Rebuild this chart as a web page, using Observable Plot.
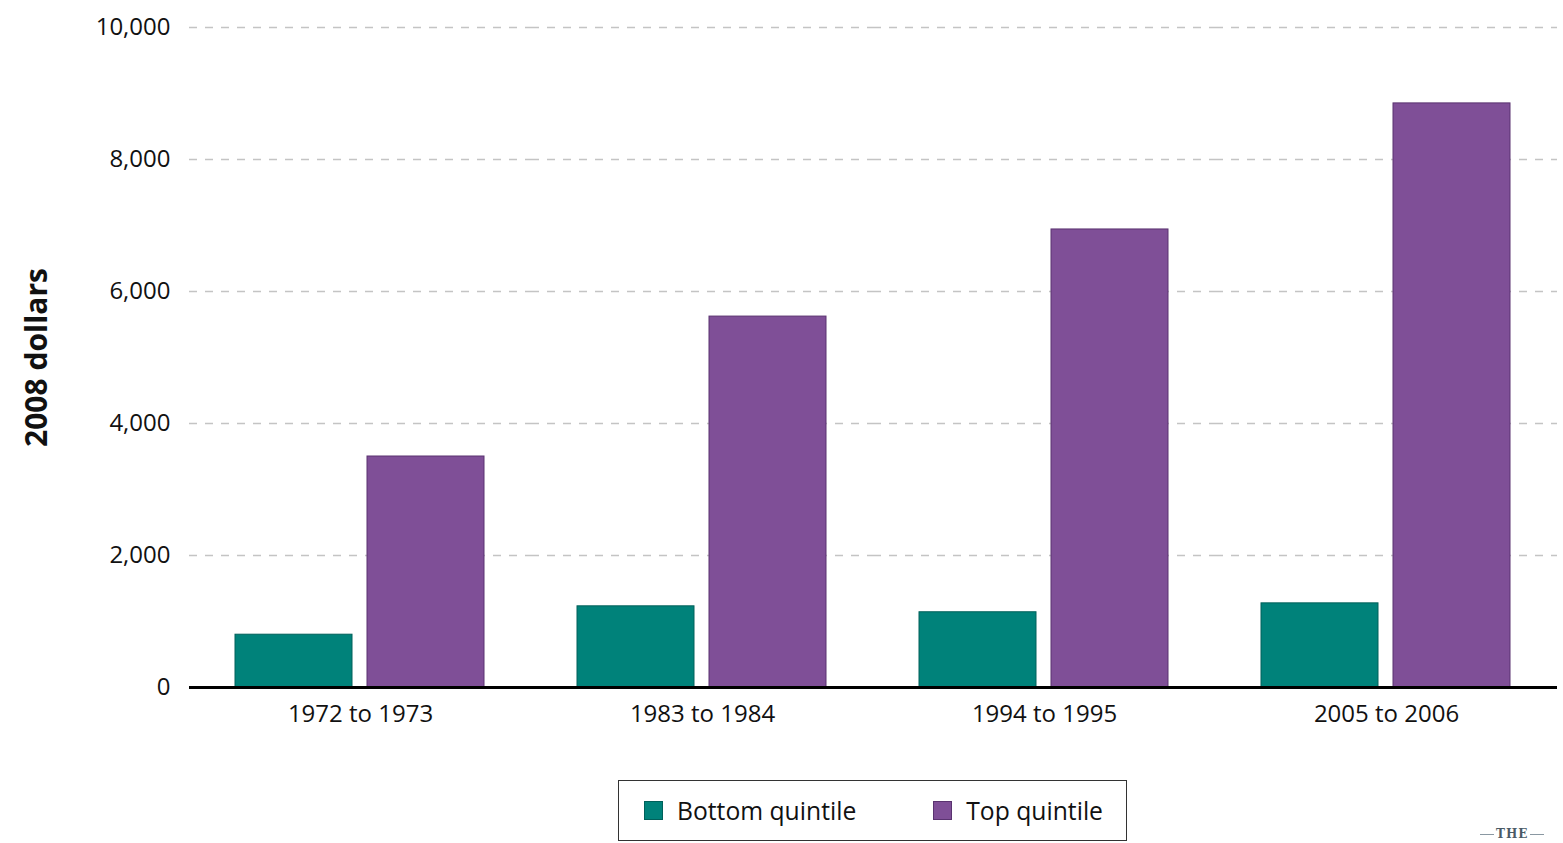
<!DOCTYPE html>
<html>
<head>
<meta charset="utf-8">
<script src="https://cdn.jsdelivr.net/npm/d3@7"></script>
<script src="https://cdn.jsdelivr.net/npm/@observablehq/plot@0.6"></script>
<style>
  html, body { margin: 0; padding: 0; background: #fff; }
  body { width: 1563px; height: 843px; position: relative; overflow: hidden; font-family: "Open Sans", sans-serif; }
  #chart { position: absolute; left: 0; top: 0; }
  g[aria-label="y-axis label"] text { font-weight: bold; font-size: 30px; fill: #111; }
  #legend { position: absolute; left: 618px; top: 780px; width: 507px; height: 59px; border: 1.5px solid #333; box-sizing: content-box; display: flex; align-items: center; font-size: 24.7px; color: #111; }
  .item { display: flex; align-items: center; }
  .sw { width: 19px; height: 19px; margin-right: 14px; }
  #logo { position: absolute; left: 1478px; top: 827px; display: flex; align-items: center; font-family: "DejaVu Serif", serif; font-size: 12px; font-weight: bold; color: #4a5a66; letter-spacing: 1px; }
  #logo .ln { width: 14px; height: 1px; background: #8a98a2; margin: 0 2px; }
</style>
</head>
<body>
<div id="chart"></div>
<div id="legend"></div>
<div id="logo"><span class="ln"></span>THE<span class="ln"></span></div>
<script>
const periods = ["1972 to 1973", "1983 to 1984", "1994 to 1995", "2005 to 2006"];
const seriesNames = ["Bottom quintile", "Top quintile"];
const bottomQuintile = [800, 1230, 1140, 1275];
const topQuintile = [3500, 5620, 6940, 8850];
const yTicks = [0, 2000, 4000, 6000, 8000, 10000];
const fillColors = ["#00827a", "#7f4f97"];
const strokeColors = ["#00605a", "#5a3370"];

const rows = [];
periods.forEach((p, i) => {
  rows.push({period: p, series: seriesNames[0], value: bottomQuintile[i]});
  rows.push({period: p, series: seriesNames[1], value: topQuintile[i]});
});

const fmt = d3.format(",");

const chart = Plot.plot({
  width: 1563,
  height: 750,
  marginLeft: 189,
  marginRight: 6,
  marginTop: 27,
  marginBottom: 63,
  style: {fontFamily: "Open Sans, sans-serif", fontSize: "24px", color: "#111", background: "#fff"},
  fx: {domain: periods, padding: 0, label: null},
  x: {domain: seriesNames, paddingInner: 0.1136, paddingOuter: 0.352, axis: null},
  y: {domain: [0, 10000], label: null},
  color: {domain: seriesNames, range: fillColors},
  marks: [
    Plot.ruleY(yTicks.filter(d => d > 0), {stroke: "#c4c4c4", strokeWidth: 1.5, strokeDasharray: "8,8"}),
    Plot.barY(rows, {fx: "period", x: "series", y: "value", fill: "series",
      stroke: d => strokeColors[seriesNames.indexOf(d.series)], strokeWidth: 1}),
    Plot.ruleY([0], {stroke: "#000", strokeWidth: 3}),
    Plot.axisY({ticks: yTicks, tickFormat: fmt, tickSize: 0, tickPadding: 19, fontSize: 24,
      label: "2008 dollars", labelAnchor: "center", labelArrow: "none", labelOffset: 164}),
    Plot.axisFx({anchor: "bottom", tickSize: 0, tickPadding: 17, fontSize: 24, label: null})
  ]
});
document.getElementById("chart").appendChild(chart);

const legend = document.getElementById("legend");
seriesNames.forEach((name, i) => {
  const item = document.createElement("div");
  item.className = "item";
  item.style.marginLeft = i === 0 ? "25px" : "77px";
  const sw = document.createElement("div");
  sw.className = "sw";
  sw.style.background = fillColors[i];
  sw.style.border = "1px solid " + strokeColors[i];
  sw.style.boxSizing = "border-box";
  const label = document.createElement("span");
  label.textContent = name;
  item.appendChild(sw);
  item.appendChild(label);
  legend.appendChild(item);
});
</script>
</body>
</html>
